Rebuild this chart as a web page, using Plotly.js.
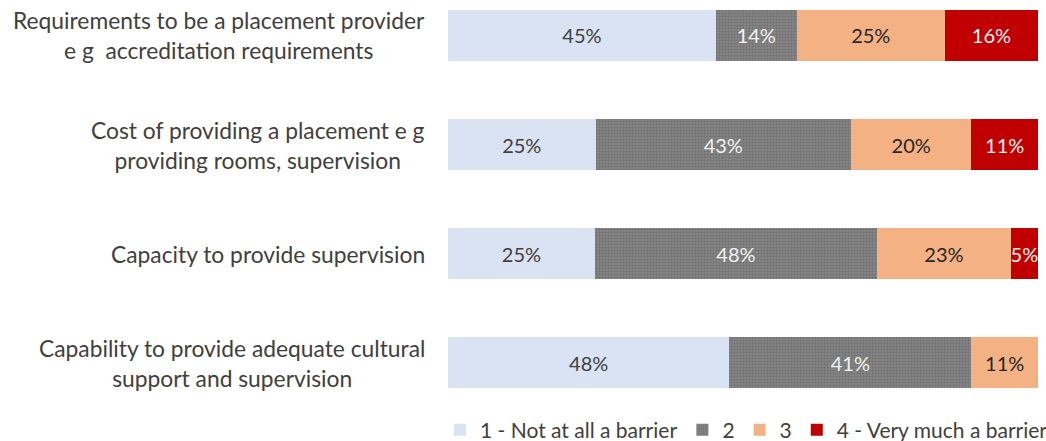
<!DOCTYPE html>
<html>
<head>
<meta charset="utf-8">
<script src="https://cdn.plot.ly/plotly-3.0.1.min.js"></script>
<style>html,body{margin:0;padding:0;background:#fff;}#chart{width:1046px;height:441px;}</style>
</head>
<body>
<div id="chart"></div>
<script>
var categories = [
  "Requirements to be a placement provider<br>e g  accreditation requirements",
  "Cost of providing a placement e g<br>providing rooms, supervision",
  "Capacity to provide supervision",
  "Capability to provide adequate cultural<br>support and supervision"
];
var seriesNames = ["1 - Not at all a barrier", "2", "3", "4 - Very much a barrier"];
var notAtAll = [45.4, 25.0, 24.9, 47.7];
var level2   = [13.7, 43.3, 47.8, 41.0];
var level3   = [25.1, 20.4, 22.7, 11.3];
var veryMuch = [15.8, 11.3, 4.6, 0];

var colors = ["#DAE3F3", "#808080", "#F4B183", "#C00000"];
var textColors = ["#404040", "#F2F2F2", "#262626", "#F2F2F2"];
var FONT = "Lato, 'Noto Sans', sans-serif";

var yIdx = categories.map(function(c, i){ return i; });
var allSeries = [notAtAll, level2, level3, veryMuch];

var traces = allSeries.map(function(vals, s){
  var marker = {color: colors[s], line: {width: 0}};
  if (s === 1) {
    marker.pattern = {shape: ".", fgcolor: "#6E6E6E", bgcolor: "#858585", size: 3, solidity: 0.35};
  }
  return {
    type: "bar",
    orientation: "h",
    name: seriesNames[s],
    x: vals,
    y: yIdx,
    width: 0.467,
    marker: marker,
    text: vals.map(function(v){ return v > 0 ? Math.round(v) + "%" : ""; }),
    textposition: "inside",
    insidetextanchor: "middle",
    textangle: 0,
    constraintext: "none",
    textfont: {family: FONT, size: 20, color: textColors[s]},
    hoverinfo: "skip"
  };
});

var annotations = categories.map(function(c, i){
  return {
    xref: "paper", yref: "y",
    x: -0.036, y: i,
    xanchor: "right", yanchor: "middle",
    align: "center",
    text: c,
    showarrow: false,
    font: {family: FONT, size: 22.8, color: "#404040"}
  };
});

var layout = {
  width: 1046, height: 441,
  margin: {l: 448, r: 8, t: 0, b: 41, autoexpand: false},
  paper_bgcolor: "#ffffff",
  plot_bgcolor: "#ffffff",
  barmode: "stack",
  showlegend: true,
  legend: {
    orientation: "h",
    x: -0.0136, xanchor: "left",
    y: -0.075, yanchor: "middle",
    font: {family: FONT, size: 21, color: "#404040"},
    traceorder: "normal",
    bgcolor: "rgba(0,0,0,0)"
  },
  xaxis: {range: [0, 100], showgrid: false, zeroline: false, showline: false, showticklabels: false, ticks: "", fixedrange: true},
  yaxis: {range: [3.341, -0.325], showgrid: false, zeroline: false, showline: false, showticklabels: false, ticks: "", fixedrange: true},
  annotations: annotations,
  font: {family: FONT}
};

Plotly.newPlot("chart", traces, layout, {displayModeBar: false, staticPlot: true});
</script>
</body>
</html>
